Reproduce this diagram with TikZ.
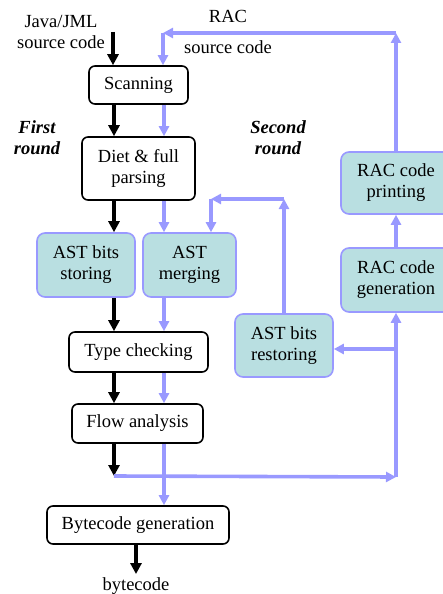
\documentclass[tikz,border=0pt]{standalone}
\usepackage{fontspec}
\setmainfont{Liberation Serif}
\usetikzlibrary{arrows.meta,positioning}
\definecolor{racblue}{RGB}{153,153,255}
\definecolor{racfill}{RGB}{185,223,225}

\begin{document}
\begin{tikzpicture}[x=1pt,y=-1pt,
    font=\fontsize{18.5}{21}\selectfont,
    phase/.style={draw, rounded corners=6pt, line width=1.6pt, align=center, inner sep=0pt},
    racphase/.style={phase, draw=racblue, fill=racfill, rounded corners=8pt},
    firstarr/.style={line width=3.6pt, -{Triangle[length=11pt,width=11pt]}},
    secondarr/.style={line width=3.6pt, racblue, -{Triangle[length=10pt,width=10pt]}},
    roundlabel/.style={align=center, font=\fontsize{18.5}{21}\selectfont\bfseries\itshape}]
    \useasboundingbox (0,0) rectangle (442,594);

    % Compiler phases
    \node[phase, minimum width=99pt, minimum height=38pt] (scan) at (138.5,85) {Scanning};
    \node[phase, minimum width=113pt, minimum height=63pt] (diet) at (138.5,168.5) {Diet \& full\\parsing};
    \node[racphase, minimum width=98pt, minimum height=64pt] (store) at (86,265) {AST bits\\storing};
    \node[racphase, minimum width=93pt, minimum height=64pt] (merge) at (189.5,265) {AST\\merging};
    \node[phase, minimum width=139pt, minimum height=40pt] (type) at (138.5,352) {Type checking};
    \node[phase, minimum width=131pt, minimum height=39pt] (flow) at (137.5,423.5) {Flow analysis};
    \node[phase, minimum width=182pt, minimum height=38pt] (bytegen) at (138,525) {Bytecode generation};
    \node[racphase, minimum width=98pt, minimum height=63pt] (restore) at (284,345.5) {AST bits\\restoring};
    \node[racphase, minimum width=110pt, minimum height=64pt] (racgen) at (396,280) {RAC code\\generation};
    \node[racphase, minimum width=110pt, minimum height=62pt] (racprint) at (396,183) {RAC code\\printing};

    % Labels
    \node[align=center] (java) at (61,32) {Java/JML\\source code};
    \node[align=center] (racsrc) at (228,32) {RAC\\[10pt]source code};
    \node[roundlabel] (first) at (37,138) {First\\round};
    \node[roundlabel] (second) at (278,138) {Second\\round};
    \node (bytecode) at (136,586) {bytecode};

    % Columns and corners
    \coordinate (lb) at (114,0);
    \coordinate (lr) at (164,0);
    \coordinate (javain) at (113,32);
    \coordinate (join) at (114,476);
    \coordinate (topright) at (396,33);
    \coordinate (topleft) at (163,33);
    \coordinate (restup) at (284,199);
    \coordinate (mergein) at (211,199);
    \coordinate (botright) at (396,477);
    \coordinate (branch) at (396,349);

    % First round
    \draw[firstarr] (javain) -- (javain |- scan.north);
    \draw[firstarr] (scan.south -| lb) -- (diet.north -| lb);
    \draw[firstarr] (diet.south -| lb) -- (store.north -| lb);
    \draw[firstarr] (store.south -| lb) -- (type.north -| lb);
    \draw[firstarr] (type.south -| lb) -- (flow.north -| lb);
    \draw[firstarr] (flow.south -| lb) -- (join);
    \draw[firstarr] (bytegen.south -| bytecode) -- (bytecode.north);

    % Second round
    \draw[secondarr] (topleft) -- (topleft |- scan.north);
    \draw[secondarr] (scan.south -| lr) -- (diet.north -| lr);
    \draw[secondarr] (diet.south -| lr) -- (merge.north -| lr);
    \draw[secondarr] (merge.south -| lr) -- (type.north -| lr);
    \draw[secondarr] (type.south -| lr) -- (flow.north -| lr);
    \draw[secondarr] (flow.south -| lr) -- (bytegen.north -| lr);
    \draw[secondarr] (join) -- (botright);
    \draw[secondarr] (botright) -- (racgen.south);
    \draw[secondarr] (branch) -- (branch -| restore.east);
    \draw[secondarr] (restore.north) -- (restup);
    \draw[secondarr] (restup) -- (mergein);
    \draw[secondarr] (mergein) -- (mergein |- merge.north);
    \draw[secondarr] (racgen.north) -- (racprint.south);
    \draw[secondarr] (racprint.north) -- (topright);
    \draw[secondarr] (topright) -- (topleft);
\end{tikzpicture}
\end{document}
